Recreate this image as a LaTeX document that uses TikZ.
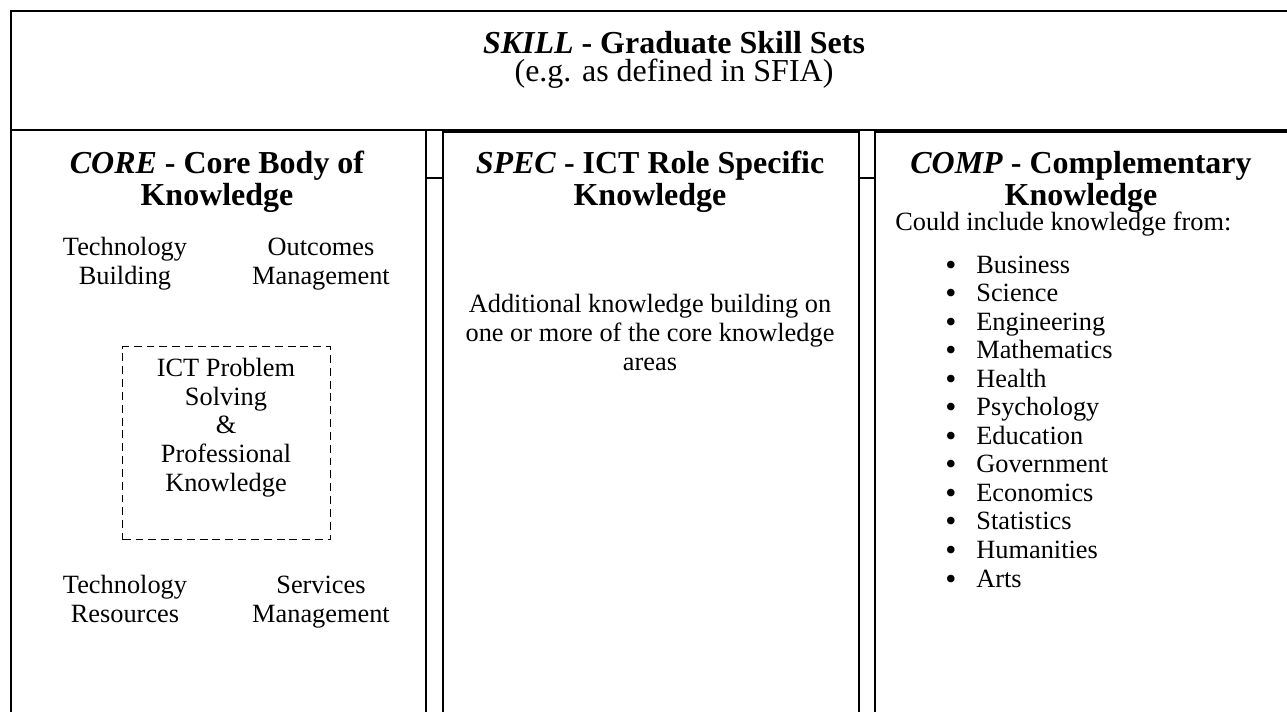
\documentclass[tikz,border=0pt]{standalone}
\usepackage{fontspec}
\setmainfont{Liberation Serif}
\usetikzlibrary{positioning}

\begin{document}
\begin{tikzpicture}[
  x=0.02cm, y=-0.02cm,
  panel/.style={draw, line width=1pt, anchor=north west, inner sep=0pt},
  headtext/.style={anchor=base, align=center, font=\fontsize{18.2pt}{18pt}\selectfont\bfseries},
  bodytext/.style={anchor=base, align=center, font=\fontsize{15pt}{16.3pt}\selectfont},
  listtext/.style={anchor=base west, inner sep=0pt, font=\fontsize{15pt}{16.3pt}\selectfont},
  bulletmark/.style={anchor=base west, inner sep=0pt, font=\fontsize{18pt}{18pt}\selectfont},
  link/.style={line width=1pt}
]
  \useasboundingbox (0,0) rectangle (1287,711);

  % outer panels, open to the right and bottom
  \node[panel, minimum width=25.6cm, minimum height=2.38cm] (skill) at (10,10) {};
  \node[panel, minimum width=8.3cm, minimum height=12cm] (core) at (10,129) {};
  \node[panel, minimum width=8.32cm, minimum height=12cm] (spec) at (442,131) {};
  \node[panel, minimum width=8.32cm, minimum height=12cm] (comp) at (874,131) {};
  \node[panel, line width=0.8pt, dash pattern=on 4.5pt off 2.8pt,
        minimum width=4.16cm, minimum height=3.86cm] (ict) at (122,346) {};

  % short ties between the knowledge panels
  \coordinate (tie) at (0,178);
  \draw[link] (core.east |- tie) -- (spec.west |- tie);
  \draw[link] (spec.east |- tie) -- (comp.west |- tie);

  % headings (base = last line)
  \node[anchor=base, align=center, font=\fontsize{18.2pt}{15.5pt}\selectfont] (skilltitle) at (674,81)
    {\textbf{\textit{SKILL} - Graduate Skill Sets}\\(e.g. as defined in SFIA)};
  \node[headtext] (coretitle) at (217,205) {\textit{CORE} - Core Body of\\Knowledge};
  \node[headtext] (spectitle) at (650,205) {\textit{SPEC} - ICT Role Specific\\Knowledge};
  \node[headtext] (comptitle) at (1081,205) {\textit{COMP} - Complementary\\Knowledge};

  % core knowledge areas
  \node[bodytext] (techbuild) at (125,284) {Technology\\Building};
  \node[bodytext] (outcomes) at (321,284) {Outcomes\\Management};
  \node[bodytext] (ictsolve) at (226,491) {ICT Problem\\Solving\\\&\\Professional\\Knowledge};
  \node[bodytext] (techres) at (125,622) {Technology\\Resources};
  \node[bodytext] (services) at (321,622) {Services\\Management};

  % role specific
  \node[bodytext] (extra) at (650,370)
    {Additional knowledge building on\\one or more of the core knowledge\\areas};

  % complementary list
  \node[listtext] (could) at (895,230) {Could include knowledge from:};
  \foreach \area [count=\i] in {Business, Science, Engineering, Mathematics, Health,
      Psychology, Education, Government, Economics, Statistics, Humanities, Arts} {
    \node[bulletmark] (bul\i) at (945, 275+28.55*\i-28.55) {\textbullet};
    \node[listtext] (area\i) at (976, 273+28.55*\i-28.55) {\area};
  }
\end{tikzpicture}
\end{document}
